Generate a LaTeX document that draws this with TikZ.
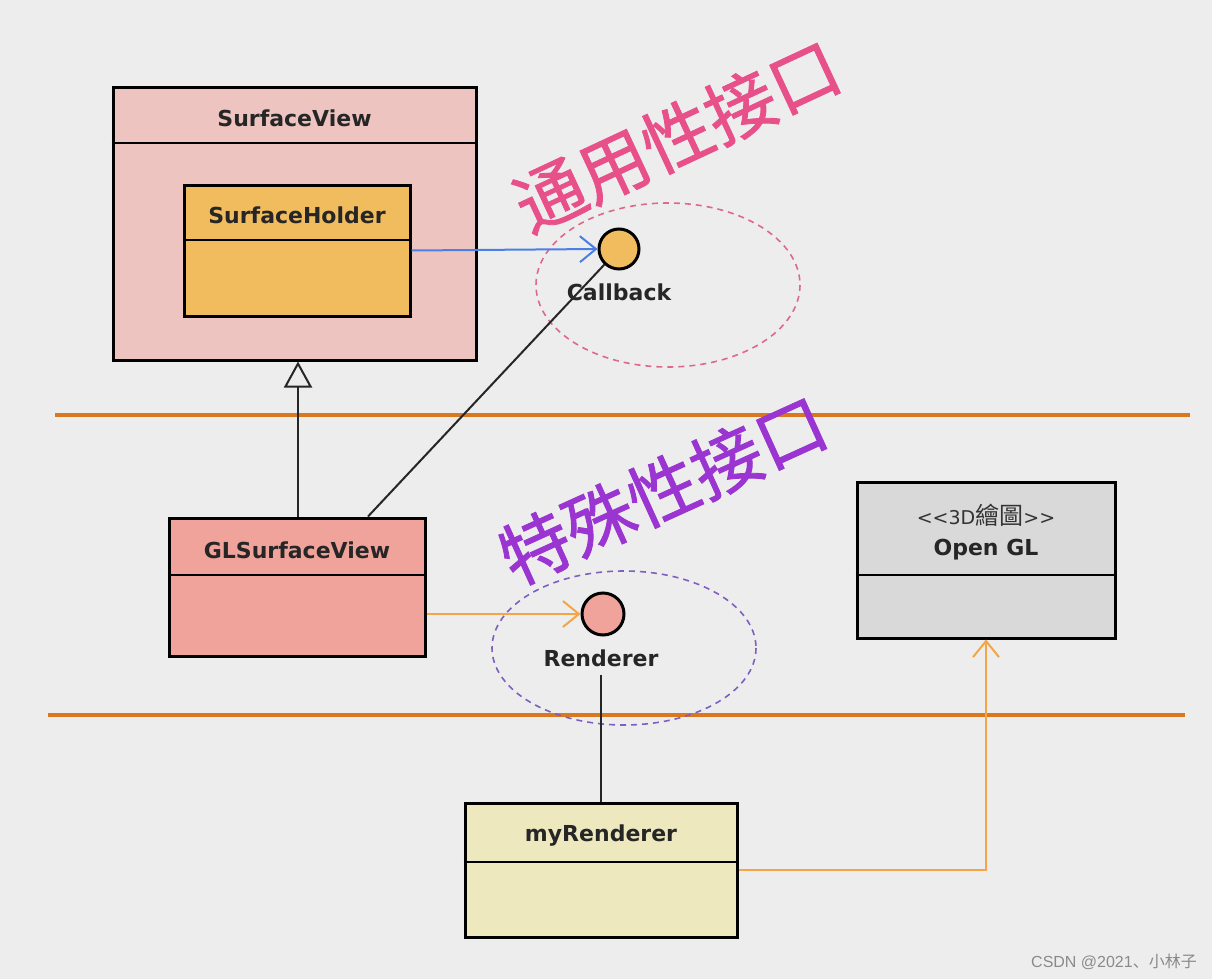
\documentclass[tikz,border=0pt]{standalone}
\usepackage{fontspec}
\setmainfont{DejaVu Sans}
\newfontfamily\lib{Liberation Sans}
\newfontfamily\cjk{Noto Sans CJK SC}
\newfontfamily\cjkbold[FakeBold=1.2]{Noto Sans CJK SC}
\newfontfamily\cjktc{Noto Sans CJK TC}
\usetikzlibrary{arrows.meta,calc}
\definecolor{bg}{HTML}{EDEDED}
\definecolor{svfill}{HTML}{EEC4C1}
\definecolor{shfill}{HTML}{F0BC5E}
\definecolor{glfill}{HTML}{F0A39A}
\definecolor{myfill}{HTML}{EEE8BE}
\definecolor{oglfill}{HTML}{D9D9D9}
\definecolor{sepline}{HTML}{D9781E}
\definecolor{blueline}{HTML}{4A7FE6}
\definecolor{orangeline}{HTML}{F4A646}
\definecolor{pinktxt}{HTML}{E8508A}
\definecolor{purpletxt}{HTML}{9B35D2}
\definecolor{pinkdash}{HTML}{DD6A88}
\definecolor{purpledash}{HTML}{7F5FC0}
\definecolor{wmark}{HTML}{8A8A8A}
\begin{document}
\begin{tikzpicture}[x=1pt,y=-1pt,
  classbox/.style={draw=black, line width=3pt, inner sep=0pt, rectangle},
  divider/.style={draw=black, line width=2pt},
  ctitle/.style={font=\bfseries\fontsize{22}{26}\selectfont, inner sep=0pt, text=black!85},
  iface/.style={circle, draw=black, line width=3pt, minimum size=40pt, inner sep=0pt},
  separator/.style={draw=sepline, line width=4pt},
  conn/.style={draw=black!85, line width=2pt},
  vhead/.style={-{Straight Barb[length=16pt,width=26pt,line width=2pt]}},
  groupring/.style={dash pattern=on 6pt off 5pt, line width=1.6pt},
  bigcjk/.style={font=\cjkbold\fontsize{70}{74}\selectfont, inner sep=0pt}
]
\fill[bg] (0,0) rectangle (1212,979);
\useasboundingbox (0,0) rectangle (1212,979);

% separators
\draw[separator] (55,415) -- (1190,415);
\draw[separator] (48,715) -- (1185,715);

% dashed groups
\draw[groupring, pinkdash] (668,285) ellipse [x radius=132, y radius=82];
\draw[groupring, purpledash] (624,648) ellipse [x radius=132, y radius=77];

% SurfaceView
\node[classbox, fill=svfill, minimum width=363pt, minimum height=272pt] (sv) at (294.5,224) {};
\draw[divider] (sv.west |- 0,143) -- (sv.east |- 0,143);
\node[ctitle] (svt) at (294.5,118) {SurfaceView};

% SurfaceHolder
\node[classbox, fill=shfill, minimum width=226pt, minimum height=131pt] (sh) at (297,250.5) {};
\draw[divider] (sh.west |- 0,240) -- (sh.east |- 0,240);
\node[ctitle] (sht) at (297,215) {SurfaceHolder};

% GLSurfaceView
\node[classbox, fill=glfill, minimum width=256pt, minimum height=138pt] (gl) at (297,587) {};
\draw[divider] (gl.west |- 0,575) -- (gl.east |- 0,575);
\node[ctitle] (glt) at (297,550) {GLSurfaceView};

% myRenderer
\node[classbox, fill=myfill, minimum width=272pt, minimum height=134pt] (my) at (601,870) {};
\draw[divider] (my.west |- 0,862) -- (my.east |- 0,862);
\node[ctitle] (myt) at (601,836) {myRenderer};

% Open GL
\node[classbox, fill=oglfill, minimum width=258pt, minimum height=156pt] (ogl) at (986,560) {};
\draw[divider] (ogl.west |- 0,575) -- (ogl.east |- 0,575);
\node[inner sep=0pt, font=\fontsize{19}{22}\selectfont, text=black!80] (oglst) at (986,515) {<{}<3D{\cjktc\fontsize{24}{26}\selectfont 繪圖}>{}>};
\node[ctitle] (oglt) at (986,550) {Open GL};

% interfaces
\node[iface, fill=shfill] (cb) at (619,249) {};
\node[ctitle] (cbl) at (619,292) {Callback};
\node[iface, fill=glfill, minimum size=42pt] (rd) at (603,614) {};
\node[ctitle] (rdl) at (601,658) {Renderer};

% connectors
\coordinate (inh) at ($(gl.north)+(1,0)$);
\coordinate (cbfoot) at ($(gl.north)+(71,0)$);
\draw[blueline, line width=2pt, vhead] (sh.east) -- (cb.west);
\draw[conn, -{Triangle[open, length=26pt, width=28pt, line width=2pt]}] (inh) -- (inh |- sv.south);
\draw[conn] (cbfoot) -- (cb);
\draw[orangeline, line width=2pt, vhead] (gl.east |- rd.west) -- (rd.west);
\draw[conn] (rdl.south) ++(0,8) -- (my.north);
\draw[orangeline, line width=2pt, vhead] (my.east) -| (ogl.south);

% big labels
\node[bigcjk, text=pinktxt, rotate=25] (gen) at (677,136) {通用性接口};
\node[bigcjk, text=purpletxt, rotate=24.4] (spec) at (663,490) {特殊性接口};

% watermark
\node[inner sep=0pt, text=wmark, font=\lib\fontsize{16}{18}\selectfont, anchor=east] (wm) at (1197,962) {CSDN @2021{\cjk 、小林子}};
\end{tikzpicture}
\end{document}
